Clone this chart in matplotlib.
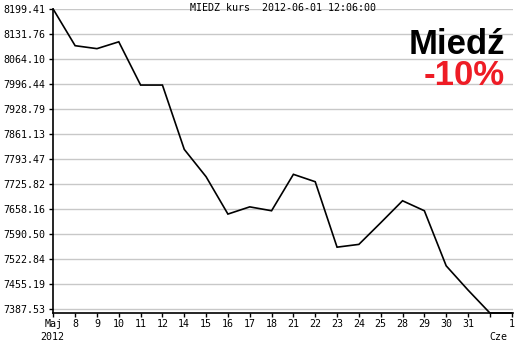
import matplotlib
matplotlib.use("Agg")
import matplotlib.pyplot as plt
from matplotlib import transforms

# ---- data (MIEDZ close, May 7 .. Jun 1 2012) ----
x_labels = ["Maj", "8", "9", "10", "11", "12", "14", "15", "16", "17", "18",
            "21", "22", "23", "24", "25", "28", "29", "30", "31", "", "1"]
prices = [8199.41, 8101.0, 8093.0, 8111.5, 7994.5, 7994.5, 7820.5, 7746.5,
          7645.5, 7665.0, 7654.5, 7753.0, 7733.0, 7556.0, 7563.5, 7622.0,
          7681.5, 7654.5, 7505.5, 7440.0, 7378.0, 7378.0]
y_ticks = [8199.41, 8131.76, 8064.10, 7996.44, 7928.79, 7861.13, 7793.47,
           7725.82, 7658.16, 7590.50, 7522.84, 7455.19, 7387.53]

MONO = "DejaVu Sans Mono"
FS = 7.2

fig = plt.figure(figsize=(5.18, 3.45), dpi=100)
ax = fig.add_axes([0.1029, 0.0918, 0.8874, 0.8812])

xs = list(range(len(prices)))
ax.plot(xs, prices, color="black", lw=1.2, solid_joinstyle="miter",
        clip_on=False, zorder=3)

ax.set_xlim(0, len(prices) - 1 + 0.06)
ax.set_ylim(7377.0, 8199.41)

ax.set_yticks(y_ticks)
ax.set_yticklabels([f"{v:.2f}" for v in y_ticks], fontfamily=MONO, fontsize=FS)
ax.set_xticks(xs)
ax.set_xticklabels(x_labels, fontfamily=MONO, fontsize=FS)
ax.tick_params(axis="y", length=3, width=1, pad=3, colors="black")
ax.tick_params(axis="x", length=3, width=1, pad=1, colors="black")
ax.yaxis.grid(True, color="#c8c8c8", lw=1)
ax.set_axisbelow(True)

for s in ["top", "right"]:
    ax.spines[s].set_visible(False)
for s in ["left", "bottom"]:
    ax.spines[s].set_linewidth(1.2)
    ax.spines[s].set_color("black")

# second row of x labels (year / month)
tr = transforms.blended_transform_factory(ax.transData, fig.transFigure)
ax.text(-0.07, 1 - 337 / 345, "2012", transform=tr, ha="center", va="center",
        fontfamily=MONO, fontsize=FS)
ax.text(20.37, 1 - 337 / 345, "Cze", transform=tr, ha="center", va="center",
        fontfamily=MONO, fontsize=FS)

# title
fig.text(283 / 518, 1 - 8 / 345, "MIEDZ kurs  2012-06-01 12:06:00", ha="center",
         va="center", fontfamily=MONO, fontsize=FS)

# big labels
BIG = ["Liberation Sans", "DejaVu Sans"]
fig.text(505 / 518, 1 - 54 / 345, "Miedź", ha="right", va="baseline",
         fontfamily=BIG, fontweight="bold", fontsize=25, color="black")
fig.text(505 / 518, 1 - 85 / 345, "-10%", ha="right", va="baseline",
         fontfamily=BIG, fontweight="bold", fontsize=25, color="#ee1c25")

fig.savefig("out.png", dpi=100)
